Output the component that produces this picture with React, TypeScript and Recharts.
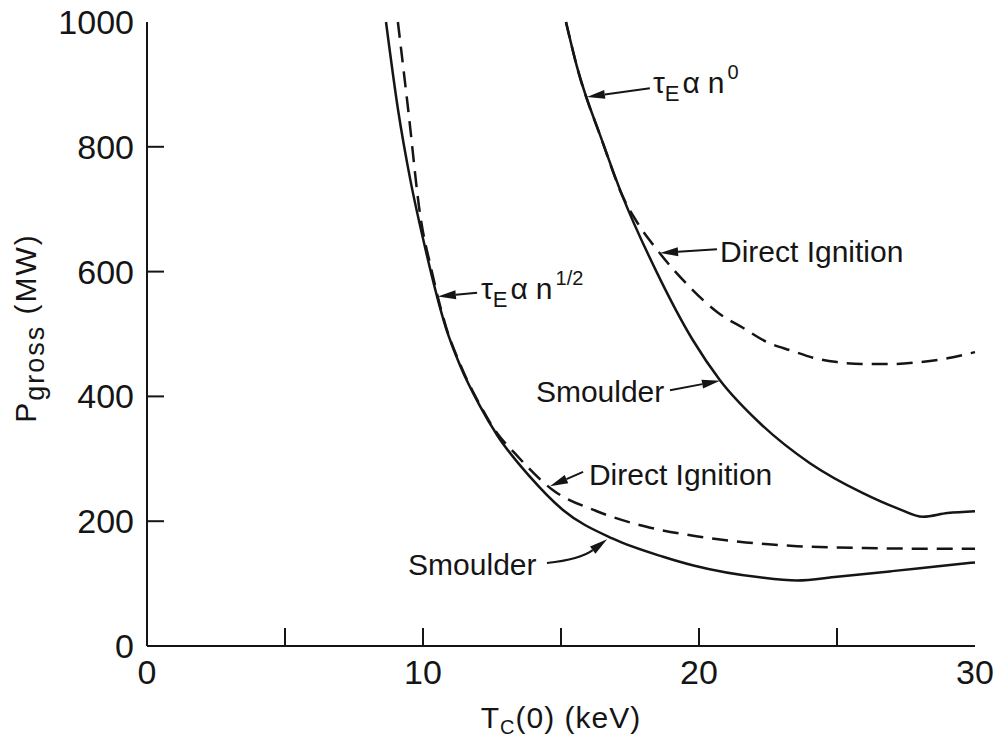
import { LineChart, Line, XAxis, YAxis, ReferenceLine, ReferenceDot, Label } from 'recharts'

const INK = '#151515'
const FONT = '"Liberation Sans", Arial, sans-serif'

// tau_E ~ n^1/2 : smoulder (solid) and direct ignition (dashed)
const halfSmoulderT = [8.66, 9.09, 9.55, 10.0, 10.83, 11.34, 12.07, 12.7, 13.88, 15.07, 16.88, 18.7, 19.8, 22.2, 23.55, 25, 27, 28.5, 30]
const halfSmoulderP = [1000, 861, 745, 653, 510, 450, 384, 337, 271, 218, 172, 143, 129, 110, 105, 111, 120, 127, 134]
const halfDirectT = [9.09, 9.46, 9.9, 10.3, 10.83, 11.34, 12.07, 12.7, 13.26, 14.7, 16.3, 18.1, 19.9, 21.7, 23.55, 26, 28, 30]
const halfDirectP = [1000, 861, 690, 604, 512, 452, 386, 340, 312, 250, 216, 191, 176, 166, 160, 157, 156, 156]

// tau_E ~ n^0 : smoulder (solid) and direct ignition (dashed)
const zeroSmoulderT = [15.18, 15.58, 16.52, 17.21, 18.48, 19.78, 20.76, 22.21, 24.02, 25.94, 27.17, 28.12, 29.0, 30]
const zeroSmoulderP = [1000, 928, 806, 723, 598, 490, 426, 357, 293, 245, 221, 207, 213, 216]
const zeroDirectT = [15.18, 15.58, 16.52, 17.21, 17.8, 18.48, 19.67, 20.69, 21.59, 22.46, 23.37, 24.13, 25.0, 25.9, 27.0, 28.0, 29.0, 30]
const zeroDirectP = [1000, 928, 806, 723, 676, 635, 575, 534, 510, 487, 473, 462, 455, 452, 452, 455, 461, 471]

const xTicks = [0, 5, 10, 15, 20, 25, 30]
const yTicks = [0, 200, 400, 600, 800, 1000]

const pts = (t: number[], p: number[]) => t.map((x, i) => ({ t: x, p: p[i] }))

// callout arrows: tail -> tip, in (keV, MW); bend > 0 curves the shaft
const arrows = [
  { from: [18.22, 894], to: [15.94, 880], bend: 0 },
  { from: [11.96, 566], to: [10.54, 560], bend: 0 },
  { from: [20.65, 636], to: [18.59, 630], bend: 0 },
  { from: [18.95, 410], to: [20.76, 425], bend: 0 },
  { from: [15.8, 279], to: [14.6, 256], bend: 0 },
  { from: [14.49, 133], to: [16.67, 171], bend: 9 },
]

const arrowShape = (bend: number) => (p: any) => {
  const { x1, y1, x2, y2 } = p
  const dx = x2 - x1
  const dy = y2 - y1
  const len = Math.hypot(dx, dy) || 1
  const cx = (x1 + x2) / 2 - (bend * dy) / len
  const cy = (y1 + y2) / 2 + (bend * dx) / len
  const ux = (x2 - cx) / Math.hypot(x2 - cx, y2 - cy)
  const uy = (y2 - cy) / Math.hypot(x2 - cx, y2 - cy)
  const head = 18
  const bx = x2 - ux * head
  const by = y2 - uy * head
  const shaft = bend ? `M${x1},${y1} Q${cx},${cy} ${bx},${by}` : `M${x1},${y1} L${bx},${by}`
  return (
    <g>
      <path d={shaft} fill="none" stroke={INK} strokeWidth={2} />
      <polygon
        points={`${x2},${y2} ${bx - uy * 4.5},${by + ux * 4.5} ${bx + uy * 4.5},${by - ux * 4.5}`}
        fill={INK}
      />
    </g>
  )
}

const textStyle = { fontFamily: FONT, fontSize: 30, fill: INK }

const tauLabel = (sup: string) => (p: any) => (
  <text x={p.cx} y={p.cy} {...textStyle}>
    τ
    <tspan fontSize={22} dy={8}>E</tspan>
    <tspan dy={-8} dx={3}>α</tspan>
    <tspan dx={8}>n</tspan>
    <tspan fontSize={20} dy={-14} dx={3}>{sup}</tspan>
  </text>
)

const plainLabel = (s: string) => (p: any) => (
  <text x={p.cx} y={p.cy} {...textStyle}>{s}</text>
)

// text anchors (left edge, baseline) in (keV, MW)
const notes = [
  { at: [18.33, 886], shape: tauLabel('0') },
  { at: [12.1, 556], shape: tauLabel('1/2') },
  { at: [20.76, 615], shape: plainLabel('Direct Ignition') },
  { at: [14.09, 391], shape: plainLabel('Smoulder') },
  { at: [16.01, 258], shape: plainLabel('Direct Ignition') },
  { at: [9.46, 114], shape: plainLabel('Smoulder') },
]

function BottomTick({ x, y, payload }: any) {
  const v = payload.value
  return (
    <g>
      {v > 0 && v < 30 && <line x1={x} x2={x} y1={y} y2={y - 18} stroke={INK} strokeWidth={2} />}
      {v % 10 === 0 && (
        <text x={x} y={y + 38} textAnchor="middle" fontFamily={FONT} fontSize={34} fill={INK}>{v}</text>
      )}
    </g>
  )
}

function TopTick({ x, y, payload }: any) {
  const v = payload.value
  if (v <= 0 || v >= 30) return <g />
  return <line x1={x} x2={x} y1={y} y2={y + 15} stroke={INK} strokeWidth={2} />
}

function LeftTick({ x, y, payload }: any) {
  const v = payload.value
  return (
    <g>
      {v > 0 && v < 1000 && <line x1={x} x2={x + 17} y1={y} y2={y} stroke={INK} strokeWidth={2} />}
      <text x={x - 13} y={y + 12} textAnchor="end" fontFamily={FONT} fontSize={34} fill={INK}>{v}</text>
    </g>
  )
}

function RightTick({ x, y, payload }: any) {
  const v = payload.value
  if (v <= 0 || v >= 1000) return <g />
  return <line x1={x} x2={x - 15} y1={y} y2={y} stroke={INK} strokeWidth={2} />
}

const xTitle = (p: any) => {
  const vb = p.viewBox
  return (
    <text x={vb.x + vb.width / 2} y={vb.y + 82} textAnchor="middle" fontFamily={FONT} fontSize={30} fill={INK} letterSpacing={1}>
      T<tspan fontSize={20} dy={6}>C</tspan>
      <tspan dy={-6}>(0)  (keV)</tspan>
    </text>
  )
}

const yTitle = (p: any) => {
  const vb = p.viewBox
  const cx = 36
  const cy = vb.y + vb.height / 2 - 6
  return (
    <text x={cx} y={cy} transform={`rotate(-90 ${cx} ${cy})`} textAnchor="middle" fontFamily={FONT} fontSize={30} fill={INK} letterSpacing={2}>
      P<tspan dy={8} fontSize={27}>gross</tspan>
      <tspan dy={-8}>  (MW)</tspan>
    </text>
  )
}

const axisLine = { stroke: INK, strokeWidth: 2 }

export default function App() {
  return (
    <div style={{ position: 'absolute', left: 0, top: 0, width: 996, height: 744, background: '#fff' }}>
      <LineChart width={996} height={744} margin={{ top: 22, right: 21, bottom: 0, left: 0 }}>
        <XAxis
          type="number" dataKey="t" domain={[0, 30]} ticks={xTicks} interval={0}
          height={98} tickSize={0} tickMargin={0} tickLine={false} axisLine={axisLine}
          tick={(p: any) => <BottomTick {...p} />}
          label={<Label content={xTitle} />}
        />
        <XAxis
          xAxisId="top" orientation="top" type="number" dataKey="t" domain={[0, 30]} ticks={xTicks} interval={0}
          height={0} tickSize={0} tickMargin={0} tickLine={false} axisLine={axisLine}
          tick={(p: any) => <TopTick {...p} />}
        />
        <YAxis
          type="number" domain={[0, 1000]} ticks={yTicks} interval={0}
          width={147} tickSize={0} tickMargin={0} tickLine={false} axisLine={axisLine}
          tick={(p: any) => <LeftTick {...p} />}
          label={<Label content={yTitle} />}
        />
        <YAxis
          yAxisId="right" orientation="right" type="number" domain={[0, 1000]} ticks={yTicks} interval={0}
          width={0} tickSize={0} tickMargin={0} tickLine={false} axisLine={axisLine}
          tick={(p: any) => <RightTick {...p} />}
        />

        <Line data={pts(halfSmoulderT, halfSmoulderP)} dataKey="p" type="monotone" stroke={INK} strokeWidth={2.5} dot={false} isAnimationActive={false} />
        <Line data={pts(halfDirectT, halfDirectP)} dataKey="p" type="monotone" stroke={INK} strokeWidth={2.5} strokeDasharray="16 9" dot={false} isAnimationActive={false} />
        <Line data={pts(zeroSmoulderT, zeroSmoulderP)} dataKey="p" type="monotone" stroke={INK} strokeWidth={2.5} dot={false} isAnimationActive={false} />
        <Line data={pts(zeroDirectT, zeroDirectP)} dataKey="p" type="monotone" stroke={INK} strokeWidth={2.5} strokeDasharray="16 9" dot={false} isAnimationActive={false} />

        {arrows.map((a, i) => (
          <ReferenceLine
            key={`a${i}`}
            segment={[{ x: a.from[0], y: a.from[1] }, { x: a.to[0], y: a.to[1] }]}
            shape={arrowShape(a.bend)}
          />
        ))}
        {notes.map((n, i) => (
          <ReferenceDot key={`n${i}`} x={n.at[0]} y={n.at[1]} r={1} shape={n.shape} />
        ))}
      </LineChart>
    </div>
  )
}
